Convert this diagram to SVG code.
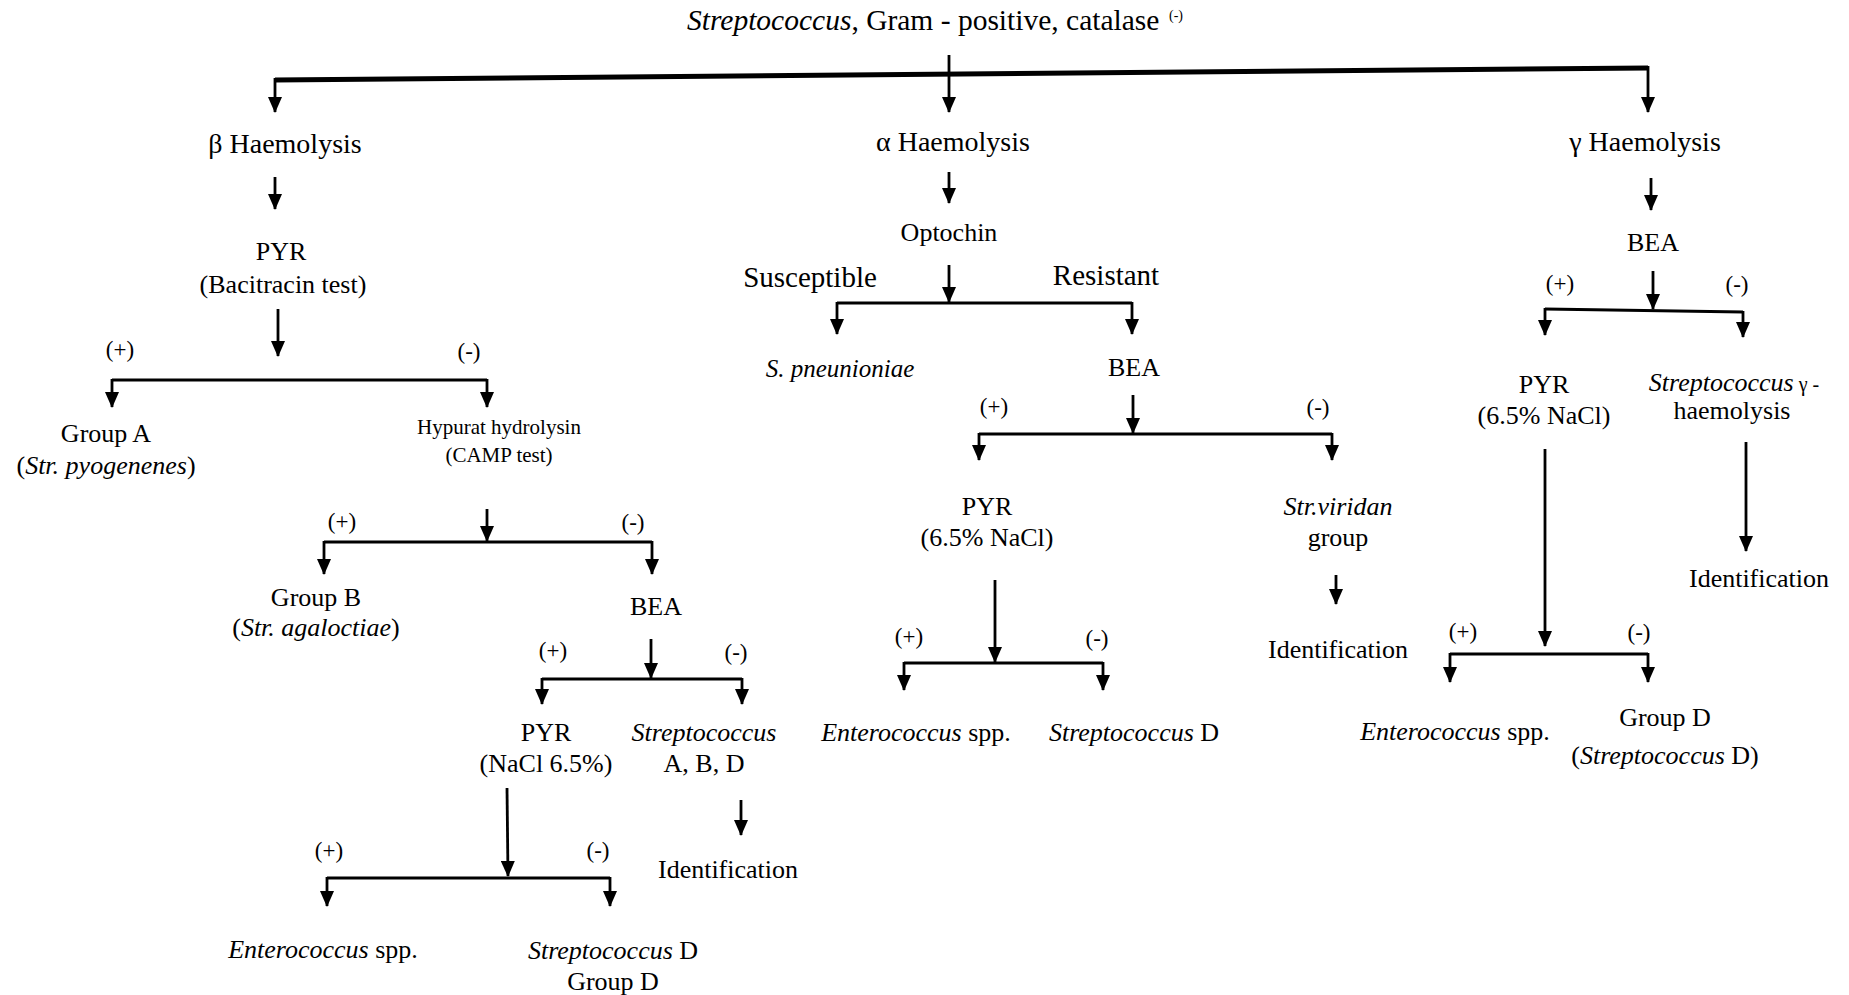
<svg xmlns="http://www.w3.org/2000/svg" width="1849" height="995" viewBox="0 0 1849 995">
<defs>
<marker id="ah" markerUnits="userSpaceOnUse" markerWidth="16" markerHeight="14" refX="15" refY="7" orient="auto" viewBox="0 0 16 14">
<path d="M0,0 L16,7 L0,14 z" fill="#000"/>
</marker>
<style>
text{font-family:"Liberation Serif","Times New Roman",serif;fill:#000;text-anchor:middle;font-size:26px}
.h{font-size:28px}
.big{font-size:29px}
.sm{font-size:21px}
.pm{font-size:23px}
.it{font-style:italic}
.c{fill:none;stroke:#000;stroke-width:2.8}
.a{fill:none;stroke:#000;stroke-width:2.8;marker-end:url(#ah)}
</style>
</defs>
<rect width="1849" height="995" fill="#fff"/>
<g id="connectors">
<line class="a" x1="949" y1="55" x2="949" y2="112" stroke-width="2"/>
<line x1="275" y1="80" x2="1648" y2="68" stroke="#000" stroke-width="5"/>
<line class="a" x1="275" y1="78" x2="275" y2="112"/>
<line class="a" x1="1648" y1="66" x2="1648" y2="112"/>
<line class="a" x1="275" y1="177" x2="275" y2="209"/>
<line class="a" x1="278" y1="309" x2="278" y2="356"/>
<path class="c" d="M112,380 H487"/>
<line class="a" x1="112" y1="379" x2="112" y2="407"/>
<line class="a" x1="487" y1="379" x2="487" y2="407"/>
<line class="a" x1="487" y1="509" x2="487" y2="541"/>
<path class="c" d="M324,542 H652"/>
<line class="a" x1="324" y1="541" x2="324" y2="574"/>
<line class="a" x1="652" y1="541" x2="652" y2="574"/>
<line class="a" x1="651" y1="639" x2="651" y2="678"/>
<path class="c" d="M542,679 H742"/>
<line class="a" x1="542" y1="678" x2="542" y2="704"/>
<line class="a" x1="742" y1="678" x2="742" y2="704"/>
<line class="a" x1="741" y1="800" x2="741" y2="835"/>
<line class="a" x1="507" y1="788" x2="508" y2="876" stroke-width="1.5"/>
<path class="c" d="M327,878 H610"/>
<line class="a" x1="327" y1="877" x2="327" y2="906"/>
<line class="a" x1="610" y1="877" x2="610" y2="906"/>
<line class="a" x1="949" y1="172" x2="949" y2="203"/>
<line class="a" x1="949" y1="265" x2="949" y2="302"/>
<path class="c" d="M837,303 H1132"/>
<line class="a" x1="837" y1="302" x2="837" y2="334"/>
<line class="a" x1="1132" y1="302" x2="1132" y2="334"/>
<line class="a" x1="1133" y1="395" x2="1133" y2="433"/>
<path class="c" d="M979,434 H1332"/>
<line class="a" x1="979" y1="433" x2="979" y2="460"/>
<line class="a" x1="1332" y1="433" x2="1332" y2="460"/>
<line class="a" x1="1336" y1="575" x2="1336" y2="604"/>
<line class="a" x1="995" y1="580" x2="995" y2="662" stroke-width="3"/>
<path class="c" d="M904,663 H1103"/>
<line class="a" x1="904" y1="662" x2="904" y2="690"/>
<line class="a" x1="1103" y1="662" x2="1103" y2="690"/>
<line class="a" x1="1651" y1="178" x2="1651" y2="210"/>
<line class="a" x1="1653" y1="271" x2="1653" y2="309"/>
<path class="c" d="M1545,309 L1743,312"/>
<line class="a" x1="1545" y1="308" x2="1545" y2="335"/>
<line class="a" x1="1743" y1="311" x2="1743" y2="337"/>
<line class="a" x1="1746" y1="442" x2="1746" y2="551" stroke-width="3"/>
<line class="a" x1="1545" y1="449" x2="1545" y2="646" stroke-width="3"/>
<path class="c" d="M1450,654 H1648"/>
<line class="a" x1="1450" y1="653" x2="1450" y2="682"/>
<line class="a" x1="1648" y1="653" x2="1648" y2="682"/>
</g>
<g id="root"><text x="687" y="30" style="text-anchor:start;font-size:29.5px"><tspan class="it">Streptococcus</tspan>, Gram - positive, catalase</text><text x="1176" y="20" style="font-size:14px">(-)</text></g>
<g id="beta"><text x="285" y="153" class="h">β Haemolysis</text></g>
<g id="beta-pyr"><text x="281" y="260">PYR</text><text x="283" y="293">(Bacitracin test)</text></g>
<g id="beta-pyr-pos"><text x="120" y="357" class="pm">(+)</text></g>
<g id="beta-pyr-neg"><text x="469" y="359" class="pm">(-)</text></g>
<g id="groupA"><text x="106" y="442">Group A</text><text x="106" y="474">(<tspan class="it">Str. pyogenenes</tspan>)</text></g>
<g id="hypurat"><text x="499" y="434" class="sm">Hypurat hydrolysin</text><text x="499" y="462" class="sm">(CAMP test)</text></g>
<g id="hyp-pos"><text x="342" y="529" class="pm">(+)</text></g>
<g id="hyp-neg"><text x="633" y="530" class="pm">(-)</text></g>
<g id="groupB"><text x="316" y="606">Group B</text><text x="316" y="636">(<tspan class="it">Str. agaloctiae</tspan>)</text></g>
<g id="beta-bea"><text x="656" y="615">BEA</text></g>
<g id="bbea-pos"><text x="553" y="658" class="pm">(+)</text></g>
<g id="bbea-neg"><text x="736" y="660" class="pm">(-)</text></g>
<g id="beta-pyr2"><text x="546" y="741">PYR</text><text x="546" y="772">(NaCl 6.5%)</text></g>
<g id="strep-abd"><text x="704" y="741" class="it">Streptococcus</text><text x="704" y="772">A, B, D</text></g>
<g id="beta-ident"><text x="728" y="878">Identification</text></g>
<g id="bpyr2-pos"><text x="329" y="858" class="pm">(+)</text></g>
<g id="bpyr2-neg"><text x="598" y="858" class="pm">(-)</text></g>
<g id="beta-entero"><text x="323" y="958"><tspan class="it">Enterococcus</tspan> spp.</text></g>
<g id="beta-strepD"><text x="613" y="959"><tspan class="it">Streptococcus</tspan> D</text><text x="613" y="990">Group D</text></g>
<g id="alpha"><text x="953" y="151" class="h">α Haemolysis</text></g>
<g id="optochin"><text x="949" y="241">Optochin</text></g>
<g id="susceptible"><text x="810" y="287" class="big">Susceptible</text></g>
<g id="resistant"><text x="1106" y="285" class="big">Resistant</text></g>
<g id="spneu"><text x="840" y="377" class="it" style="font-size:25px">S. pneunioniae</text></g>
<g id="alpha-bea"><text x="1134" y="376">BEA</text></g>
<g id="abea-pos"><text x="994" y="414" class="pm">(+)</text></g>
<g id="abea-neg"><text x="1318" y="415" class="pm">(-)</text></g>
<g id="alpha-pyr"><text x="987" y="515">PYR</text><text x="987" y="546">(6.5% NaCl)</text></g>
<g id="viridans"><text x="1338" y="515" class="it">Str.viridan</text><text x="1338" y="546">group</text></g>
<g id="alpha-ident"><text x="1338" y="658">Identification</text></g>
<g id="apyr-pos"><text x="909" y="644" class="pm">(+)</text></g>
<g id="apyr-neg"><text x="1097" y="646" class="pm">(-)</text></g>
<g id="alpha-entero"><text x="916" y="741"><tspan class="it">Enterococcus</tspan> spp.</text></g>
<g id="alpha-strepD"><text x="1134" y="741"><tspan class="it">Streptococcus</tspan> D</text></g>
<g id="gamma"><text x="1645" y="151" class="h">γ Haemolysis</text></g>
<g id="gamma-bea"><text x="1653" y="251">BEA</text></g>
<g id="gbea-pos"><text x="1560" y="291" class="pm">(+)</text></g>
<g id="gbea-neg"><text x="1737" y="292" class="pm">(-)</text></g>
<g id="gamma-pyr"><text x="1544" y="393">PYR</text><text x="1544" y="424">(6.5% NaCl)</text></g>
<g id="strep-gamma"><text x="1734" y="391"><tspan class="it">Streptococcus</tspan><tspan style="font-size:20px"> γ -</tspan></text><text x="1732" y="419">haemolysis</text></g>
<g id="gamma-ident"><text x="1759" y="587">Identification</text></g>
<g id="gpyr-pos"><text x="1463" y="639" class="pm">(+)</text></g>
<g id="gpyr-neg"><text x="1639" y="640" class="pm">(-)</text></g>
<g id="gamma-entero"><text x="1455" y="740"><tspan class="it">Enterococcus</tspan> spp.</text></g>
<g id="gamma-groupD"><text x="1665" y="726">Group D</text><text x="1665" y="764">(<tspan class="it">Streptococcus</tspan> D)</text></g>
</svg>
